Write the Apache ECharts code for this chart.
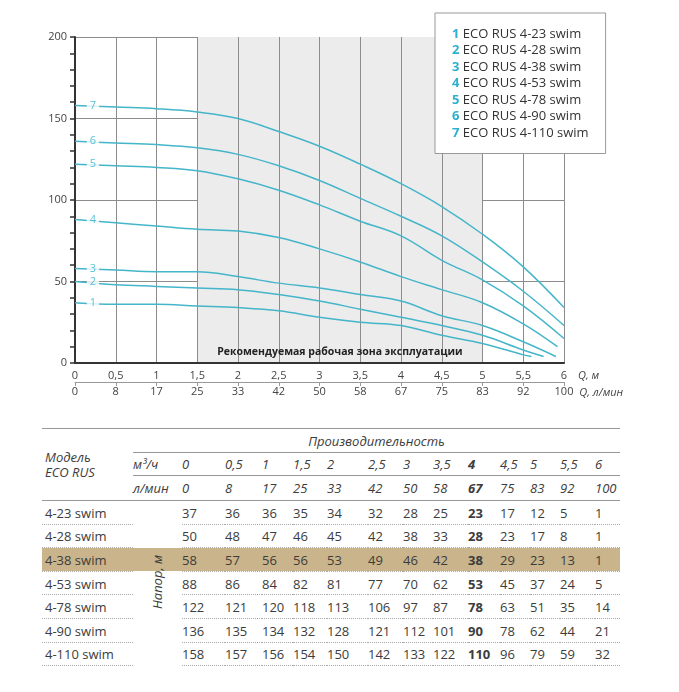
<!DOCTYPE html>
<html>
<head>
<meta charset="utf-8">
<script src="https://cdn.jsdelivr.net/npm/echarts@6/dist/echarts.min.js"></script>
<style>
body { margin: 0; background: #fff; font-family: 'Open Sans', sans-serif; }
#chart { position: absolute; left: 0; top: 0; width: 679px; height: 420px; }
#tbl { position: absolute; left: 42px; top: 428px; }
table { border-collapse: collapse; table-layout: fixed; font-size: 13px; color: #3c3c3c; border-top: 1.5px solid #999; }
td { padding: 0; white-space: nowrap; text-align: left; vertical-align: middle; }
td.it { font-style: italic; }
tr.h0 td { height: 23px; }
tr.h1 td { height: 22px; }
tr.h2 td { height: 24px; }
tr.d td { height: 21.6px; padding-top: 1px; }
tr.d td.sep { border-bottom: 1px dotted #aaa; }
tr.hl td { background: #c9b48b; }
td.b { font-weight: bold; }
#napor { position: absolute; left: 157px; top: 582px; transform: translate(-50%, -50%) rotate(-90deg); font-style: italic; font-size: 13px; color: #3c3c3c; white-space: nowrap; }
</style>
</head>
<body>
<div id="chart"></div>
<div id="tbl"></div>
<div id="napor">Напор, м</div>
<script>
// расход, м3/ч и л/мин
const flowM3h = [0, 0.5, 1, 1.5, 2, 2.5, 3, 3.5, 4, 4.5, 5, 5.5, 6]
const flowLpm = [0, 8, 17, 25, 33, 42, 50, 58, 67, 75, 83, 92, 100]

const models = ['4-23 swim', '4-28 swim', '4-38 swim', '4-53 swim', '4-78 swim', '4-90 swim', '4-110 swim']

// напор, м (таблица)
const head1 = [37, 36, 36, 35, 34, 32, 28, 25, 23, 17, 12, 5, 1]
const head2 = [50, 48, 47, 46, 45, 42, 38, 33, 28, 23, 17, 8, 1]
const head3 = [58, 57, 56, 56, 53, 49, 46, 42, 38, 29, 23, 13, 1]
const head4 = [88, 86, 84, 82, 81, 77, 70, 62, 53, 45, 37, 24, 5]
const head5 = [122, 121, 120, 118, 113, 106, 97, 87, 78, 63, 51, 35, 14]
const head6 = [136, 135, 134, 132, 128, 121, 112, 101, 90, 78, 62, 44, 21]
const head7 = [158, 157, 156, 154, 150, 142, 133, 122, 110, 96, 79, 59, 32]
const heads = [head1, head2, head3, head4, head5, head6, head7]

// конец кривой на графике [Q, H]
const curveEnds = [[5.6, 4], [5.75, 4], [5.9, 4], [5.92, 10], [6, 15], [6, 23], [6, 34]]

const zoneFrom = 1.5
const zoneTo = 5
const labelX = 0.22

const cyan = '#45b5ca'
const gridColor = '#8c8c8c'
const font = 'Open Sans'

// таблица
const colW = [43, 37, 31, 34, 41, 35, 30, 35, 32, 30, 30, 35, 25]
const boldCol = 8
const highlightRow = 2
const fmt = v => String(v).replace('.', ',')

let html = '<table><colgroup><col style="width:91px"><col style="width:49px">'
colW.forEach(w => { html += `<col style="width:${w}px">` })
html += '</colgroup>'
html += '<tr class="h0"><td class="it" rowspan="3" style="border-bottom:1px solid #999;line-height:15px;padding-left:3px">Модель<br>ECO RUS</td>' +
  `<td class="it" colspan="${colW.length + 1}" style="text-align:center;border-bottom:1px solid #999">Производительность</td></tr>`
html += '<tr class="h1"><td class="it" style="border-bottom:1px solid #999">м³/ч</td>'
flowM3h.forEach((v, i) => { html += `<td class="it${i === boldCol ? ' b' : ''}" style="border-bottom:1px solid #999">${fmt(v)}</td>` })
html += '</tr><tr class="h2"><td class="it" style="border-bottom:1px solid #999">л/мин</td>'
flowLpm.forEach((v, i) => { html += `<td class="it${i === boldCol ? ' b' : ''}" style="border-bottom:1px solid #999">${v}</td>` })
html += '</tr>'
models.forEach((m, r) => {
  html += `<tr class="d${r === highlightRow ? ' hl' : ''}"><td class="sep" style="padding-left:3px">${m}</td><td></td>`
  heads[r].forEach((v, i) => { html += `<td class="sep${i === boldCol ? ' b' : ''}">${v}</td>` })
  html += '</tr>'
})
html += '</table>'
document.getElementById('tbl').innerHTML = html

// график
const chart = echarts.init(document.getElementById('chart'))

const curveSeries = heads.map((h, i) => {
  const pts = flowM3h.slice(0, 12).map((q, k) => [q, h[k]])
  pts.push(curveEnds[i])
  return {
    name: 'ECO RUS ' + models[i],
    type: 'line',
    data: pts,
    smooth: 0.4,
    showSymbol: false,
    lineStyle: { color: cyan, width: 1.5 },
    itemStyle: { color: cyan },
    z: 3
  }
})

// заливка рекомендуемой зоны по интервалам оси
const zoneColors = flowM3h.slice(0, 12).map(q => (q >= zoneFrom && q < zoneTo ? '#ececec' : 'rgba(255,255,255,0)'))

const option = {
  textStyle: { fontFamily: font },
  animation: false,
  grid: { left: 75, top: 37, width: 489, height: 326 },
  legend: {
    data: curveSeries.map(s => s.name),
    orient: 'vertical',
    left: 435,
    top: 13,
    padding: [14, 17, 14, 12],
    itemGap: 3,
    itemWidth: 0,
    itemHeight: 14,
    icon: 'none',
    backgroundColor: '#fff',
    borderColor: '#999',
    borderWidth: 1,
    selectedMode: false,
    formatter: name => '{n|' + (curveSeries.findIndex(s => s.name === name) + 1) + '} ' + name,
    textStyle: {
      fontSize: 13,
      color: '#333',
      fontFamily: font,
      rich: { n: { color: '#2eb0cf', fontWeight: 'bold', fontSize: 13, fontFamily: font } }
    }
  },
  xAxis: [
    {
      type: 'value',
      min: 0,
      max: 6,
      interval: 0.5,
      name: 'Q, м',
      nameLocation: 'end',
      nameGap: 14,
      nameTextStyle: { fontStyle: 'italic', fontSize: 11, color: '#444', verticalAlign: 'top', lineHeight: 12, padding: [7, 0, 0, 0] },
      axisLine: { show: true, onZero: false, lineStyle: { color: '#333', width: 2 } },
      axisTick: { show: false },
      axisLabel: { fontSize: 11, color: '#444', margin: 7, formatter: v => fmt(v) },
      splitLine: { show: true, showMinLine: false, lineStyle: { color: gridColor, width: 1 } },
      splitArea: { show: true, areaStyle: { color: zoneColors } }
    },
    {
      type: 'value',
      position: 'bottom',
      offset: 19,
      min: 0,
      max: 6,
      interval: 0.5,
      name: 'Q, л/мин',
      nameLocation: 'end',
      nameGap: 14,
      nameTextStyle: { fontStyle: 'italic', fontSize: 11, color: '#444', verticalAlign: 'top', lineHeight: 12, padding: [5, 0, 0, 0] },
      axisLine: { show: true, onZero: false, lineStyle: { color: '#999', width: 1 } },
      axisTick: { show: true, length: 4, lineStyle: { color: '#999' } },
      axisLabel: { fontSize: 11, color: '#444', margin: 4, formatter: v => flowLpm[Math.round(v / 0.5)] },
      splitLine: { show: false }
    }
  ],
  yAxis: {
    type: 'value',
    min: 0,
    max: 200,
    interval: 50,
    axisLine: { show: true, onZero: false, lineStyle: { color: '#333', width: 2 } },
    axisTick: { show: true, length: 5, lineStyle: { color: '#333', width: 1.5 } },
    minorTick: { show: true, splitNumber: 5, length: 5, lineStyle: { color: '#333', width: 1.5 } },
    axisLabel: { fontSize: 11, color: '#444', margin: 8 },
    splitLine: { show: true, showMinLine: false, lineStyle: { color: gridColor, width: 1 } }
  },
  series: [
    ...curveSeries,
    {
      type: 'scatter',
      symbolSize: 0,
      silent: true,
      z: 4,
      data: heads.map((h, i) => ({ value: [labelX, h[0]], name: String(i + 1) })),
      label: {
        show: true,
        position: 'inside',
        formatter: p => p.name,
        color: '#2eb0cf',
        fontSize: 11,
        backgroundColor: '#fff',
        padding: [0, 3]
      },
      markArea: {
        silent: true,
        itemStyle: { color: 'transparent' },
        label: {
          show: true,
          position: 'insideBottom',
          distance: 5,
          fontSize: 10.5,
          fontWeight: 'bold',
          color: '#222'
        },
        data: [[{ xAxis: zoneFrom, name: 'Рекомендуемая рабочая зона эксплуатации' }, { xAxis: zoneTo }]]
      }
    }
  ]
}

chart.setOption(option)
</script>
</body>
</html>
